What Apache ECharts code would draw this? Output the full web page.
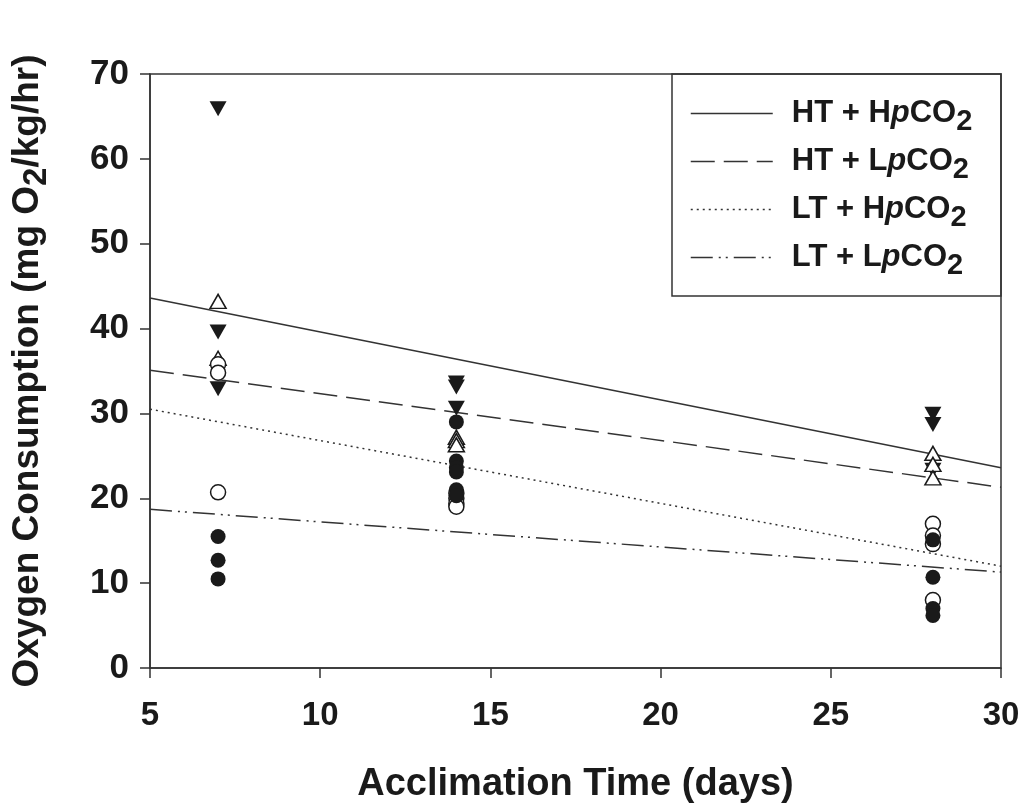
<!DOCTYPE html>
<html>
<head>
<meta charset="utf-8">
<script src="https://cdn.jsdelivr.net/npm/echarts@6/dist/echarts.min.js"></script>
<style>
html,body{margin:0;padding:0;background:#fff;}
#chart{width:1024px;height:809px;}
</style>
</head>
<body>
<div id="chart"></div>
<script>
// ---- data ----
const xTicks = [5, 10, 15, 20, 25, 30];
const yTicks = [0, 10, 20, 30, 40, 50, 60, 70];
const seriesNames = ['HT + HpCO2', 'HT + LpCO2', 'LT + HpCO2', 'LT + LpCO2'];

// measured points (acclimation day, oxygen consumption)
const htHpco2Points = [[7,65.9],[7,39.6],[7,32.9],[14,33.6],[14,33.1],[14,30.6],[28,29.9],[28,28.7],[28,23.3]];
const htLpco2Points = [[7,43.2],[7,36.5],[14,27.2],[14,26.8],[14,26.3],[28,25.3],[28,24.0],[28,22.4]];
const ltHpco2Points = [[7,35.8],[7,34.8],[7,20.7],[14,20.6],[14,20.0],[14,19.4],[14,19.0],[28,17.0],[28,15.6],[28,14.6],[28,8.0]];
const ltLpco2Points = [[7,15.5],[7,12.7],[7,10.5],[14,29.0],[14,24.4],[14,23.6],[14,23.1],[14,21.0],[14,20.3],[28,15.1],[28,10.7],[28,7.0],[28,6.2]];

// regression lines: value at x = 5 and at x = 30
const fitX = [5, 30];
const fitHtHpco2 = [43.6, 23.6];
const fitHtLpco2 = [35.1, 21.3];
const fitLtHpco2 = [30.5, 12.0];
const fitLtLpco2 = [18.7, 11.3];

// ---- build ----
const ink = '#1a1a1a';
const lineInk = '#333333';
const font = '"Liberation Sans", Arial, Helvetica, sans-serif';

function pairs(xs, ys){ return xs.map((x,i)=>[x, ys[i]]); }

function richName(name){
  // 'HT + HpCO2' -> rich text with italic p and subscript 2
  const m = name.match(/^(.*[HL])p(CO)2$/);
  return '{a|' + m[1] + '}{p|p}{a|' + m[2] + '}{s|2}';
}

const chart = echarts.init(document.getElementById('chart'), null, {renderer:'canvas'});

const dashTypes = ['solid', [24, 9], [2, 4], [22, 6, 2, 5, 2, 6]];
const fits = [fitHtHpco2, fitHtLpco2, fitLtHpco2, fitLtLpco2];

const lineSeries = seriesNames.map((n, i) => ({
  name: n,
  type: 'line',
  data: pairs(fitX, fits[i]),
  symbol: 'none',
  showSymbol: false,
  silent: true,
  z: 2,
  lineStyle: {color: lineInk, width: 1.5, type: dashTypes[i]},
  itemStyle: {color: lineInk},
  animation: false
}));

const markerSize = 15;
const scatterSeries = [
  {name:'s1', type:'scatter', data: htHpco2Points, symbol:'triangle', symbolRotate:180, symbolSize:[17,15],
   itemStyle:{color: ink, borderColor: ink, borderWidth: 0, opacity: 1}},
  {name:'s2', type:'scatter', data: htLpco2Points, symbol:'triangle', symbolSize:[16,14],
   itemStyle:{color:'#ffffff', borderColor: ink, borderWidth: 1.5, opacity: 1}},
  {name:'s3', type:'scatter', data: ltHpco2Points, symbol:'circle', symbolSize: markerSize,
   itemStyle:{color:'#ffffff', borderColor: ink, borderWidth: 1.5, opacity: 1}},
  {name:'s4', type:'scatter', data: ltLpco2Points, symbol:'circle', symbolSize: markerSize,
   itemStyle:{color: ink, borderColor: ink, borderWidth: 0, opacity: 1}}
].map(s => Object.assign(s, {z: 3, animation:false, silent:true}));

const richText = {
  a: {fontFamily: font, fontWeight:'bold', fontSize: 31, color: ink, lineHeight: 32},
  p: {fontFamily: font, fontWeight:'bold', fontStyle:'italic', fontSize: 31, color: ink, lineHeight: 32},
  s: {fontFamily: font, fontWeight:'bold', fontSize: 29, color: ink, lineHeight: 16, padding: [16, 0, 0, 0]}
};

const option = {
  backgroundColor: '#ffffff',
  animation: false,
  grid: {
    left: 150, right: 23, top: 74, bottom: 141,
    outerBoundsMode: 'none', containLabel: false,
    show: true, borderColor: lineInk, borderWidth: 1.5, backgroundColor: 'transparent'
  },
  xAxis: {
    type: 'value', min: 5, max: 30, interval: 5,
    name: 'Acclimation Time (days)', nameLocation: 'middle', nameGap: 98,
    nameTextStyle: {fontFamily: font, fontWeight:'bold', fontSize: 38, color: ink},
    axisLine: {show: true, onZero: false, lineStyle:{color: lineInk, width: 1.5}},
    axisTick: {show: true, inside: false, length: 10, lineStyle:{color: lineInk, width: 1.5}},
    axisLabel: {fontFamily: font, fontWeight:'bold', fontSize: 33, color: ink, margin: 31, showMinLabel: true, showMaxLabel: true},
    splitLine: {show: false}
  },
  yAxis: {
    type: 'value', min: 0, max: 70, interval: 10,
    name: 'Oxygen Consumption (mg O{s|2}/kg/hr)', nameLocation: 'middle', nameGap: 103,
    nameTextStyle: {
      fontFamily: font, fontWeight:'bold', fontSize: 37, color: ink, lineHeight: 38,
      rich: {s: {fontFamily: font, fontWeight:'bold', fontSize: 33, color: ink, lineHeight: 20, padding: [18, 0, 0, 0]}}
    },
    axisLine: {show: true, lineStyle:{color: lineInk, width: 1.5}},
    axisTick: {show: true, inside: false, length: 10, lineStyle:{color: lineInk, width: 1.5}},
    axisLabel: {fontFamily: font, fontWeight:'bold', fontSize: 35, color: ink, margin: 21},
    splitLine: {show: false}
  },
  legend: {
    show: true,
    orient: 'vertical',
    left: 690, top: 91,
    padding: 0,
    itemWidth: 82, itemHeight: 14, itemGap: 3,
    selectedMode: false,
    data: seriesNames,
    formatter: n => richName(n),
    textStyle: {fontFamily: font, fontWeight:'bold', fontSize: 31, color: ink, padding:[0,0,0,14], rich: richText},
    itemStyle: {color: 'rgba(0,0,0,0)', borderWidth: 0, opacity: 0},
    lineStyle: {width: 1.5}
  },
  graphic: [{
    type: 'rect', silent: true, z: 10,
    shape: {x: 672, y: 74, width: 329, height: 222},
    style: {fill: 'none', stroke: lineInk, lineWidth: 1.5}
  }],
  series: lineSeries.concat(scatterSeries)
};
chart.setOption(option);
</script>
</body>
</html>
